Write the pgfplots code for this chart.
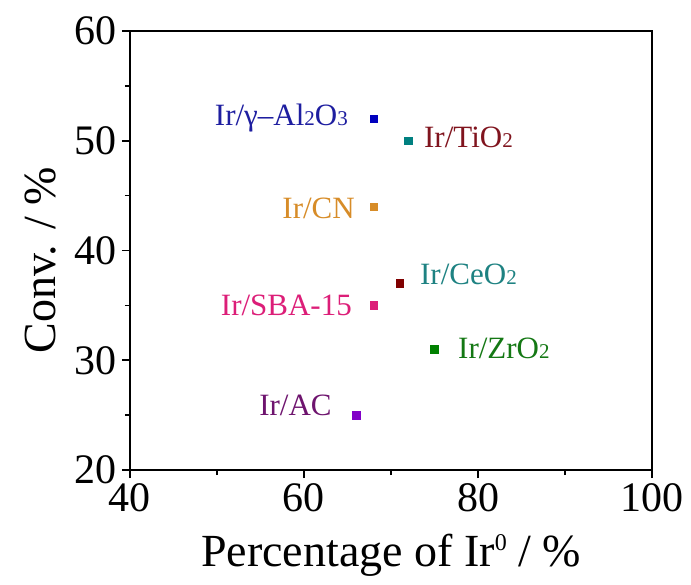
\documentclass[border=0pt]{standalone}
\usepackage{pgfplots}
\pgfplotsset{compat=1.18}
\usepackage{fontspec}
\setmainfont{Liberation Serif}
\definecolor{cAlL}{RGB}{30,30,160}
\definecolor{cAlM}{RGB}{0,0,190}
\definecolor{cTiL}{RGB}{128,20,30}
\definecolor{cTeal}{RGB}{0,128,128}
\definecolor{cTealL}{RGB}{30,130,130}
\definecolor{cCN}{RGB}{215,140,40}
\definecolor{cCeM}{RGB}{128,0,0}
\definecolor{cSBA}{RGB}{220,30,120}
\definecolor{cZrL}{RGB}{20,120,20}
\definecolor{cZrM}{RGB}{0,128,0}
\definecolor{cACL}{RGB}{110,20,110}
\definecolor{cACM}{RGB}{130,0,200}
\newcommand{\sub}[1]{{\fontsize{21}{21}\selectfont #1}}
\begin{document}
\begin{tikzpicture}
\begin{axis}[
  scale only axis, width=522pt, height=439pt,
  xmin=40, xmax=100, ymin=20, ymax=60,
  xtick={40,60,80,100}, ytick={20,30,40,50,60},
  minor xtick={50,70,90}, minor ytick={25,35,45,55},
  tick align=outside, xtick pos=bottom, ytick pos=left,
  major tick length=8pt, minor tick length=5pt,
  axis line style={line width=2pt}, every tick/.style={black, line width=1.6pt},
  minor tick style={black, line width=1.6pt},
  /pgf/number format/assume math mode=true,
  ticklabel style={font=\fontsize{42}{48}\selectfont},
  xticklabel style={yshift=-2pt},
  yticklabel style={xshift=-2pt},
  xlabel={Percentage of Ir\raisebox{0.75ex}{\fontsize{24}{24}\selectfont 0} / \%},
  ylabel={Conv. / \%},
  label style={font=\fontsize{46}{52}\selectfont},
  xlabel style={at={(axis description cs:0.5,-0.194)}, anchor=center},
  ylabel style={at={(axis description cs:-0.172,0.478)}, anchor=center},
  clip=false,
]
\addplot[only marks, mark=square*, mark size=3.8pt, color=cAlM] coordinates {(68,52)};
\addplot[only marks, mark=square*, mark size=3.8pt, color=cTeal] coordinates {(72,50)};
\addplot[only marks, mark=square*, mark size=3.8pt, color=cCN] coordinates {(68,44)};
\addplot[only marks, mark=square*, mark size=3.8pt, color=cCeM] coordinates {(71,37)};
\addplot[only marks, mark=square*, mark size=3.8pt, color=cSBA] coordinates {(68,35)};
\addplot[only marks, mark=square*, mark size=3.8pt, color=cZrM] coordinates {(75,31)};
\addplot[only marks, mark=square*, mark size=3.8pt, color=cACM] coordinates {(66,25)};
\begin{scope}[every node/.style={inner sep=0pt, font=\fontsize{31}{36}\selectfont}]
\node[anchor=base east, text=cAlL] at (axis cs:65.06,51.43) {Ir/γ–Al\sub{2}O\sub{3}};
\node[anchor=base west, text=cTiL] at (axis cs:73.79,49.43) {Ir/TiO\sub{2}};
\node[anchor=base east, text=cCN] at (axis cs:65.86,42.96) {Ir/CN};
\node[anchor=base west, text=cTealL] at (axis cs:73.33,36.86) {Ir/CeO\sub{2}};
\node[anchor=base east, text=cSBA] at (axis cs:65.52,34.12) {Ir/SBA-15};
\node[anchor=base west, text=cZrL] at (axis cs:77.7,30.2) {Ir/ZrO\sub{2}};
\node[anchor=base east, text=cACL] at (axis cs:63.2,25.0) {Ir/AC};
\end{scope}
\end{axis}
\pgfresetboundingbox
\useasboundingbox (-130pt,-114pt) rectangle (561pt,470pt);
\end{tikzpicture}
\end{document}
